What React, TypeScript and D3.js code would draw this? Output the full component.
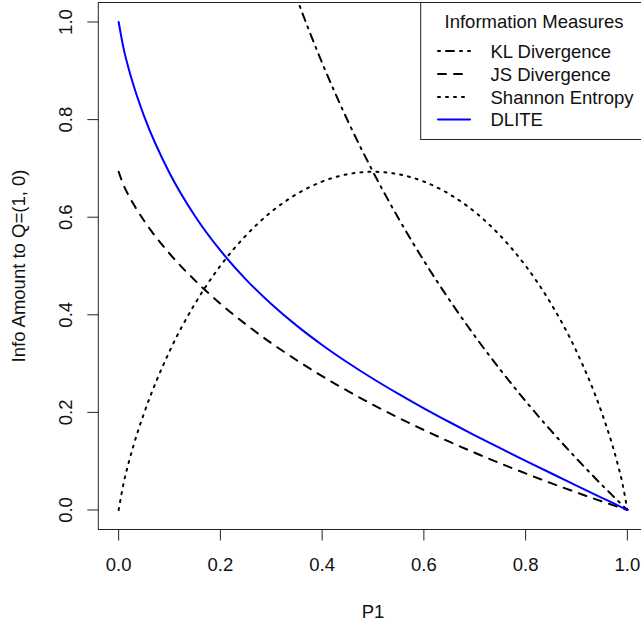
import React from "react";
import * as d3 from "d3";

// P1 grid and the values
const p1Values = [0, 0.01, 0.02, 0.03, 0.05, 0.1, 0.15, 0.2, 0.25, 0.3, 0.35, 0.4, 0.45, 0.5, 0.55, 0.6, 0.65, 0.7, 0.75, 0.8, 0.85, 0.9, 0.95, 0.97, 0.98, 0.99, 1];
const klValues: (number | null)[] = [null, null, null, null, null, null, null, null, null, 1.204, 1.0498, 0.9163, 0.7985, 0.6931, 0.5978, 0.5108, 0.4308, 0.3567, 0.2877, 0.2231, 0.1625, 0.1054, 0.0513, 0.0305, 0.0202, 0.0101, 0];
const jsValues = [0.6931, 0.6651, 0.6439, 0.6253, 0.5927, 0.5256, 0.4705, 0.4228, 0.3804, 0.342, 0.3069, 0.2744, 0.2441, 0.2158, 0.1891, 0.1639, 0.14, 0.1173, 0.0956, 0.0749, 0.055, 0.036, 0.0176, 0.0105, 0.007, 0.0035, 0];
const shannonValues = [0, 0.056, 0.098, 0.1348, 0.1985, 0.3251, 0.4227, 0.5004, 0.5623, 0.6109, 0.6474, 0.673, 0.6881, 0.6931, 0.6881, 0.673, 0.6474, 0.6109, 0.5623, 0.5004, 0.4227, 0.3251, 0.1985, 0.1348, 0.098, 0.056, 0];
const dliteValues = [1, 0.9444, 0.9033, 0.8679, 0.8073, 0.6907, 0.6026, 0.5318, 0.4727, 0.4222, 0.3778, 0.3382, 0.3022, 0.2689, 0.2379, 0.2084, 0.1803, 0.1531, 0.1267, 0.1008, 0.0753, 0.0501, 0.025, 0.015, 0.01, 0.005, 0];

const xTicks = [0, 0.2, 0.4, 0.6, 0.8, 1.0];
const yTicks = [0, 0.2, 0.4, 0.6, 0.8, 1.0];
const seriesNames = ["KL Divergence", "JS Divergence", "Shannon Entropy", "DLITE"];
const legendTitle = "Information Measures";
const xLabel = "P1";
const yLabel = "Info Amount to Q=(1, 0)";

const W = 641;
const H = 624;
const FONT = "'Liberation Sans', Arial, Helvetica, sans-serif";
const FS = 18.5;

export default function App() {
  const x = d3.scaleLinear().domain([-0.04, 1.04]).range([98.3, 647.7]);
  const y = d3.scaleLinear().domain([-0.04, 1.04]).range([529.5, 2.5]);

  const makeLine = (vals: (number | null)[]) =>
    d3
      .line<number>()
      .defined((_, i) => vals[i] !== null)
      .x((d) => x(d))
      .y((_, i) => y(vals[i] as number))
      .curve(d3.curveMonotoneX)(p1Values) || "";

  const series = [
    { name: seriesNames[0], vals: klValues, color: "#000", dash: "2 6 8 6" },
    { name: seriesNames[1], vals: jsValues, color: "#000", dash: "8 8" },
    { name: seriesNames[2], vals: shannonValues, color: "#000", dash: "2 6" },
    { name: seriesNames[3], vals: dliteValues, color: "#0000ff", dash: "" },
  ];

  const [x0, x1] = x.range();
  const [yb, yt] = y.range();

  const legLeft = 420.7;
  const legRowY = [51, 74, 97, 119.5];

  return (
    <svg
      width={W}
      height={H}
      style={{ position: "absolute", left: 0, top: 0, background: "#fff" }}
      fontFamily={FONT}
    >
      <defs>
        <clipPath id="plotclip">
          <rect x={x0} y={yt} width={x1 - x0} height={yb - yt} />
        </clipPath>
      </defs>
      <rect x={0} y={0} width={W} height={H} fill="#fff" />

      {/* series */}
      <g clipPath="url(#plotclip)">
        {series.map((s) => (
          <path
            key={s.name}
            d={makeLine(s.vals)}
            fill="none"
            stroke={s.color}
            strokeWidth={2}
            strokeLinecap="round"
            strokeDasharray={s.dash || undefined}
          />
        ))}
      </g>

      {/* box */}
      <rect x={x0} y={yt} width={x1 - x0} height={yb - yt} fill="none" stroke="#222" strokeWidth={1} />

      {/* x axis */}
      <g>
        {xTicks.map((t) => (
          <g key={t}>
            <line x1={x(t)} x2={x(t)} y1={yb} y2={yb + 11} stroke="#222" />
            <text x={x(t)} y={571} fontSize={FS} textAnchor="middle" fill="#111">
              {t.toFixed(1)}
            </text>
          </g>
        ))}
        <text x={(x(0) + x(1)) / 2} y={618} fontSize={FS} textAnchor="middle" fill="#111">
          {xLabel}
        </text>
      </g>

      {/* y axis */}
      <g>
        {yTicks.map((t) => (
          <g key={t}>
            <line x1={x0 - 11} x2={x0} y1={y(t)} y2={y(t)} stroke="#222" />
            <text
              transform={`translate(72,${y(t)}) rotate(-90)`}
              fontSize={FS}
              textAnchor="middle"
              fill="#111"
            >
              {t.toFixed(1)}
            </text>
          </g>
        ))}
        <text
          transform={`translate(25,${(yb + yt) / 2}) rotate(-90)`}
          fontSize={FS}
          textAnchor="middle"
          fill="#111"
        >
          {yLabel}
        </text>
      </g>

      {/* legend */}
      <g>
        <rect x={legLeft} y={yt} width={x1 - legLeft} height={139.5 - yt} fill="#fff" stroke="#222" strokeWidth={1} />
        <text x={534} y={27.7} fontSize={FS} textAnchor="middle" fill="#111">
          {legendTitle}
        </text>
        {series.map((s, i) => (
          <g key={s.name}>
            <line
              x1={438}
              x2={470}
              y1={legRowY[i]}
              y2={legRowY[i]}
              stroke={s.color}
              strokeWidth={2}
              strokeLinecap="round"
              strokeDasharray={s.dash || undefined}
            />
            <text x={490.5} y={legRowY[i] + 6.5} fontSize={FS} fill="#111">
              {s.name}
            </text>
          </g>
        ))}
      </g>
    </svg>
  );
}
